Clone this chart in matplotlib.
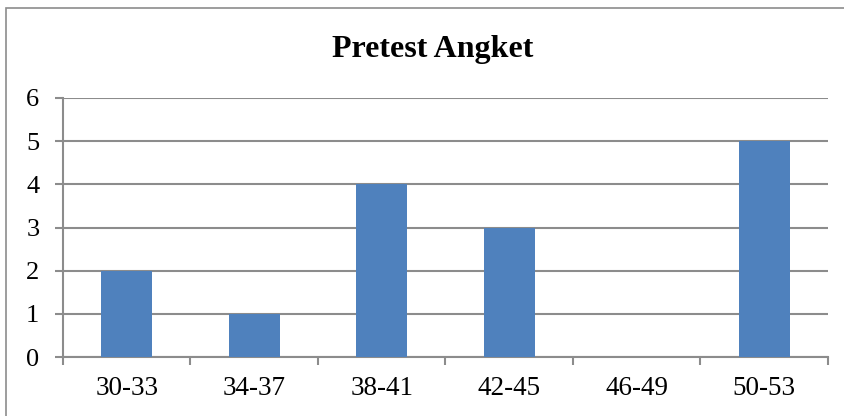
import matplotlib.pyplot as plt
import numpy as np
from matplotlib.patches import Rectangle

categories = ['30-33', '34-37', '38-41', '42-45', '46-49', '50-53']
counts = [2, 1, 4, 3, 0, 5]
title = 'Pretest Angket'

plt.rcParams['font.family'] = ['Liberation Serif', 'DejaVu Serif']

fig = plt.figure(figsize=(8.44, 4.16), dpi=100)

# chart frame (cropped on the right and bottom in the reference)
frame = Rectangle((6/844, -0.1), 1.2, 1 - 8/416 + 0.1, transform=fig.transFigure,
                  fill=False, edgecolor='#8c8c8c', lw=1.2)
fig.patches.append(frame)

ax = fig.add_axes([63/844, 1 - 357/416, (828 - 63)/844, (357 - 98)/416])
x = np.arange(len(categories))
ax.bar(x, counts, width=0.4, color='#4f81bd', zorder=3)

ax.set_xlim(-0.5, len(categories) - 0.5)
ax.set_ylim(0, 6)
ax.set_yticks(range(0, 7))
ax.yaxis.grid(True, color='#8c8c8c', lw=1.5, zorder=0)

ax.set_xticks(x)
ax.set_xticklabels(categories)
ax.set_xticks(np.arange(-0.5, len(categories)), minor=True)
ax.tick_params(axis='x', which='major', length=0, pad=14, labelsize=19.5)
ax.tick_params(axis='x', which='minor', length=6, width=1.5, color='#8c8c8c')
ax.tick_params(axis='y', length=6, width=1.5, color='#8c8c8c', pad=11, labelsize=19)

for s in ['top', 'right']:
    ax.spines[s].set_visible(False)
for s in ['left', 'bottom']:
    ax.spines[s].set_color('#8c8c8c')
    ax.spines[s].set_linewidth(1.5)

fig.text(433/844, 1 - 57/416, title, ha='center', va='baseline',
         fontsize=23, fontweight='bold')

fig.savefig('out.png', dpi=100)
